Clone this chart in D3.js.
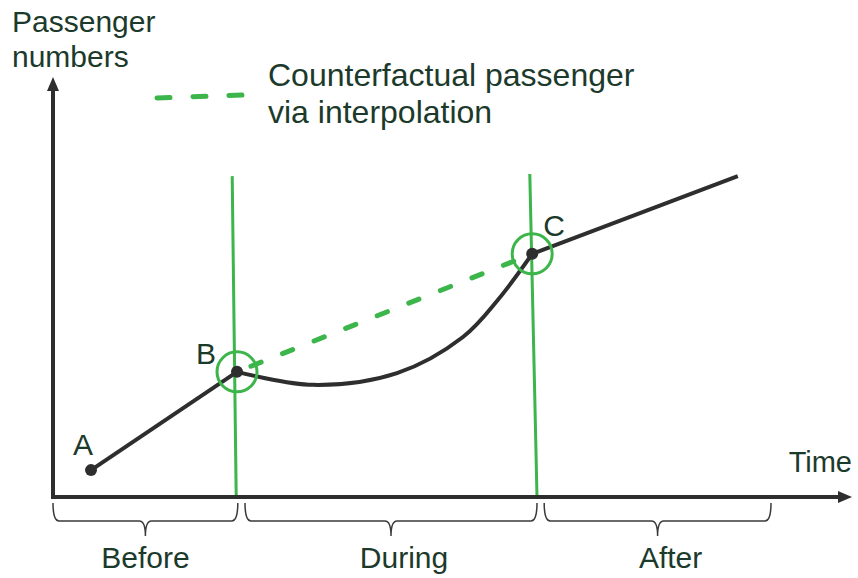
<!DOCTYPE html>
<html>
<head>
<meta charset="utf-8">
<script src="https://cdn.jsdelivr.net/npm/d3@7"></script>
<style>
  body { margin: 0; background: #fff; }
  text { font-family: "Liberation Sans", Arial, sans-serif; fill: #1c3a2b; }
</style>
</head>
<body>
<div id="chart"></div>
<script>
// Values, in arbitrary "time" and "passenger" units (0..100)
var beforeTime = [4.75, 23.0];
var beforePassengers = [6.4, 29.8];

var duringTime = [23.0, 32.5, 43.0, 51.25, 55.6, 59.9];
var duringPassengers = [29.8, 26.7, 29.5, 38.1, 46.9, 57.9];

var afterTime = [59.9, 85.6];
var afterPassengers = [57.9, 76.4];

var counterfactualTime = [23.0, 59.9];
var counterfactualPassengers = [29.8, 57.9];

var pointNames = ["A", "B", "C"];
var pointTime = [4.75, 23.0, 59.9];
var pointPassengers = [6.4, 29.8, 57.9];

// intervention boundaries (drawn slightly slanted like the original)
var boundaryTopTime = [22.4, 59.6];
var boundaryBottomTime = [22.9, 60.5];
var boundaryTop = [76.4, 76.9];

var periodNames = ["Before", "During", "After"];
var periodStart = [0, 24.0, 61.4];
var periodEnd = [23.1, 60.5, 89.75];

var W = 858, H = 578;
var ink = "#2e2e2e", green = "#3cb54a";

var x = d3.scaleLinear().domain([0, 100]).range([53, 853]);
var y = d3.scaleLinear().domain([0, 100]).range([497, 77]);

var svg = d3.select("#chart").append("svg")
    .attr("width", W).attr("height", H);

var zip = function(xs, ys) { return xs.map(function(t, i) { return [t, ys[i]]; }); };
var line = d3.line().x(function(d) { return x(d[0]); }).y(function(d) { return y(d[1]); });

// green boundary lines
boundaryTopTime.forEach(function(t, i) {
    svg.append("line")
       .attr("x1", x(t)).attr("y1", y(boundaryTop[i]))
       .attr("x2", x(boundaryBottomTime[i])).attr("y2", y(0))
       .attr("stroke", green).attr("stroke-width", 3);
});

// axes with arrow heads
svg.append("line")
   .attr("x1", x(0)).attr("y1", y(0) + 2)
   .attr("x2", x(0)).attr("y2", y(100) + 10)
   .attr("stroke", ink).attr("stroke-width", 4);
svg.append("path")
   .attr("d", "M" + x(0) + "," + y(100) + "l-6,14l12,0z")
   .attr("fill", ink);
svg.append("line")
   .attr("x1", x(0) - 2).attr("y1", y(0))
   .attr("x2", x(100) - 12).attr("y2", y(0))
   .attr("stroke", ink).attr("stroke-width", 4);
svg.append("path")
   .attr("d", "M" + (x(100) - 1) + "," + y(0) + "l-14,-6l0,12z")
   .attr("fill", ink);

svg.append("text").attr("x", 12).attr("y", 32).attr("font-size", 30).text("Passenger");
svg.append("text").attr("x", 12).attr("y", 67).attr("font-size", 30).text("numbers");
svg.append("text").attr("x", 852).attr("y", 472).attr("text-anchor", "end")
   .attr("font-size", 29).text("Time");

// counterfactual (dashed)
svg.append("path")
   .datum(zip(counterfactualTime, counterfactualPassengers))
   .attr("d", line)
   .attr("fill", "none").attr("stroke", green).attr("stroke-width", 5)
   .attr("stroke-linecap", "round")
   .attr("stroke-dasharray", "11,23").attr("stroke-dashoffset", 19);

// observed passenger path
svg.append("path")
   .datum(zip(beforeTime, beforePassengers))
   .attr("d", line)
   .attr("fill", "none").attr("stroke", ink).attr("stroke-width", 4);
svg.append("path")
   .datum(zip(duringTime, duringPassengers))
   .attr("d", line.curve(d3.curveCatmullRom.alpha(0.5)))
   .attr("fill", "none").attr("stroke", ink).attr("stroke-width", 4);
line.curve(d3.curveLinear);
svg.append("path")
   .datum(zip(afterTime, afterPassengers))
   .attr("d", line)
   .attr("fill", "none").attr("stroke", ink).attr("stroke-width", 4);

// rings round B and C
[1, 2].forEach(function(i) {
    svg.append("circle")
       .attr("cx", x(pointTime[i])).attr("cy", y(pointPassengers[i])).attr("r", 20)
       .attr("fill", "none").attr("stroke", green).attr("stroke-width", 3);
});

svg.selectAll(".pt").data(pointNames).enter().append("circle")
   .attr("class", "pt")
   .attr("cx", function(d, i) { return x(pointTime[i]); })
   .attr("cy", function(d, i) { return y(pointPassengers[i]); })
   .attr("r", 6).attr("fill", ink);

var labelOffset = { A: [-8, -15], B: [-31, -8], C: [22, -18] };
svg.selectAll(".ptlabel").data(pointNames).enter().append("text")
   .attr("class", "ptlabel")
   .attr("x", function(d, i) { return x(pointTime[i]) + labelOffset[d][0]; })
   .attr("y", function(d, i) { return y(pointPassengers[i]) + labelOffset[d][1]; })
   .attr("text-anchor", "middle").attr("font-size", 30)
   .text(function(d) { return d; });

// legend
svg.append("line")
   .attr("x1", 157).attr("y1", 98).attr("x2", 245).attr("y2", 95)
   .attr("stroke", green).attr("stroke-width", 5).attr("stroke-linecap", "round")
   .attr("stroke-dasharray", "13,23");
svg.append("text").attr("x", 268).attr("y", 86).attr("font-size", 32).text("Counterfactual passenger");
svg.append("text").attr("x", 268).attr("y", 123).attr("font-size", 32).text("via interpolation");

// period braces
var brace = function(x0, x1) {
    var y0 = 503, y1 = 521, y2 = 536, r = 6, xm = (x0 + x1) / 2;
    return "M" + x0 + "," + y0 +
           "Q" + x0 + "," + y1 + " " + (x0 + r) + "," + y1 +
           "L" + (xm - r) + "," + y1 +
           "Q" + xm + "," + y1 + " " + xm + "," + y2 +
           "Q" + xm + "," + y1 + " " + (xm + r) + "," + y1 +
           "L" + (x1 - r) + "," + y1 +
           "Q" + x1 + "," + y1 + " " + x1 + "," + y0;
};
periodNames.forEach(function(name, i) {
    var x0 = x(periodStart[i]), x1 = x(periodEnd[i]);
    svg.append("path").attr("d", brace(x0, x1))
       .attr("fill", "none").attr("stroke", "#3a3a3a").attr("stroke-width", 1.5);
    svg.append("text").attr("x", (x0 + x1) / 2 + (i ? 13 : 0)).attr("y", 568)
       .attr("text-anchor", "middle").attr("font-size", 30).text(name);
});
</script>
</body>
</html>
